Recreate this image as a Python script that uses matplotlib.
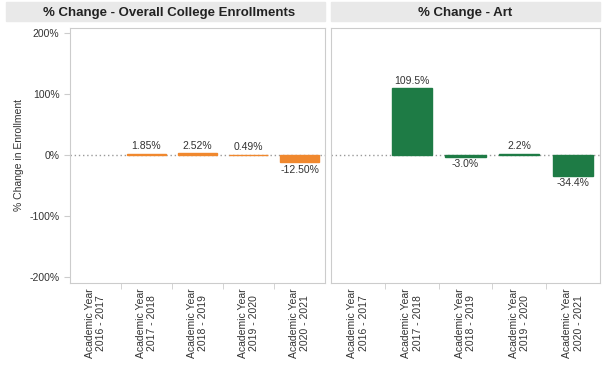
import matplotlib.pyplot as plt
from matplotlib.patches import Rectangle

# datos
categorias = ["Academic Year\n2016 - 2017", "Academic Year\n2017 - 2018",
              "Academic Year\n2018 - 2019", "Academic Year\n2019 - 2020",
              "Academic Year\n2020 - 2021"]
overall = [None, 1.85, 2.52, 0.49, -12.50]
overall_labels = ["", "1.85%", "2.52%", "0.49%", "-12.50%"]
art = [None, 109.5, -3.0, 2.2, -34.4]
art_labels = ["", "109.5%", "-3.0%", "2.2%", "-34.4%"]
yticks = [200, 100, 0, -100, -200]

plt.rcParams['font.family'] = ['Liberation Sans', 'DejaVu Sans']

fig = plt.figure(figsize=(6.03, 3.68), dpi=100)
ax1 = fig.add_axes([0.116, 0.231, 0.423, 0.693])
ax2 = fig.add_axes([0.549, 0.231, 0.446, 0.693])

# bandas de titulo
fig.patches.append(Rectangle((0.01, 0.942), 0.529, 0.052, transform=fig.transFigure,
                             color="#e9e9e9", zorder=0))
fig.patches.append(Rectangle((0.549, 0.942), 0.446, 0.052, transform=fig.transFigure,
                             color="#e9e9e9", zorder=0))
fig.text(0.28, 0.966, "% Change - Overall College Enrollments", ha="center", va="center",
         fontsize=9.5, fontweight="bold", color="#222222")
fig.text(0.772, 0.966, "% Change - Art", ha="center", va="center",
         fontsize=9.5, fontweight="bold", color="#222222")

def dibujar(ax, valores, etiquetas, color):
    x = list(range(len(categorias)))
    for i, v in enumerate(valores):
        if v is None:
            continue
        ax.bar(i, v, width=0.75, color=color, edgecolor=color, linewidth=1, zorder=3)
        if v >= 0:
            ax.text(i, v + 4, etiquetas[i], ha="center", va="bottom", fontsize=7.5, color="#333333")
        else:
            ax.text(i, v - 4, etiquetas[i], ha="center", va="top", fontsize=7.5, color="#333333")
    ax.axhline(0, color="#999999", linestyle=(0, (1, 2)), linewidth=1, zorder=2)
    ax.set_xlim(-0.5, len(categorias) - 0.5)
    ax.set_ylim(-210, 208)
    ax.set_xticks(x)
    ax.set_xticklabels(categorias, rotation=90, fontsize=7.5, color="#333333")
    ax.set_xticks([i + 0.5 for i in range(len(categorias) - 1)], minor=True)
    ax.tick_params(axis="x", which="major", length=0, pad=4)
    ax.tick_params(axis="x", which="minor", length=4, color="#cccccc")
    for s in ax.spines.values():
        s.set_color("#cccccc")
        s.set_linewidth(0.8)

dibujar(ax1, overall, overall_labels, "#F0882E")
dibujar(ax2, art, art_labels, "#1E7B45")

ax1.set_yticks(yticks)
ax1.set_yticklabels([f"{t}%" for t in yticks], fontsize=7.5, color="#333333")
ax1.tick_params(axis="y", length=4, color="#cccccc")
ax1.set_ylabel("% Change in Enrollment", fontsize=7.5, color="#333333")
ax2.set_yticks([])

plt.savefig("out.png", dpi=100)
plt.close()
